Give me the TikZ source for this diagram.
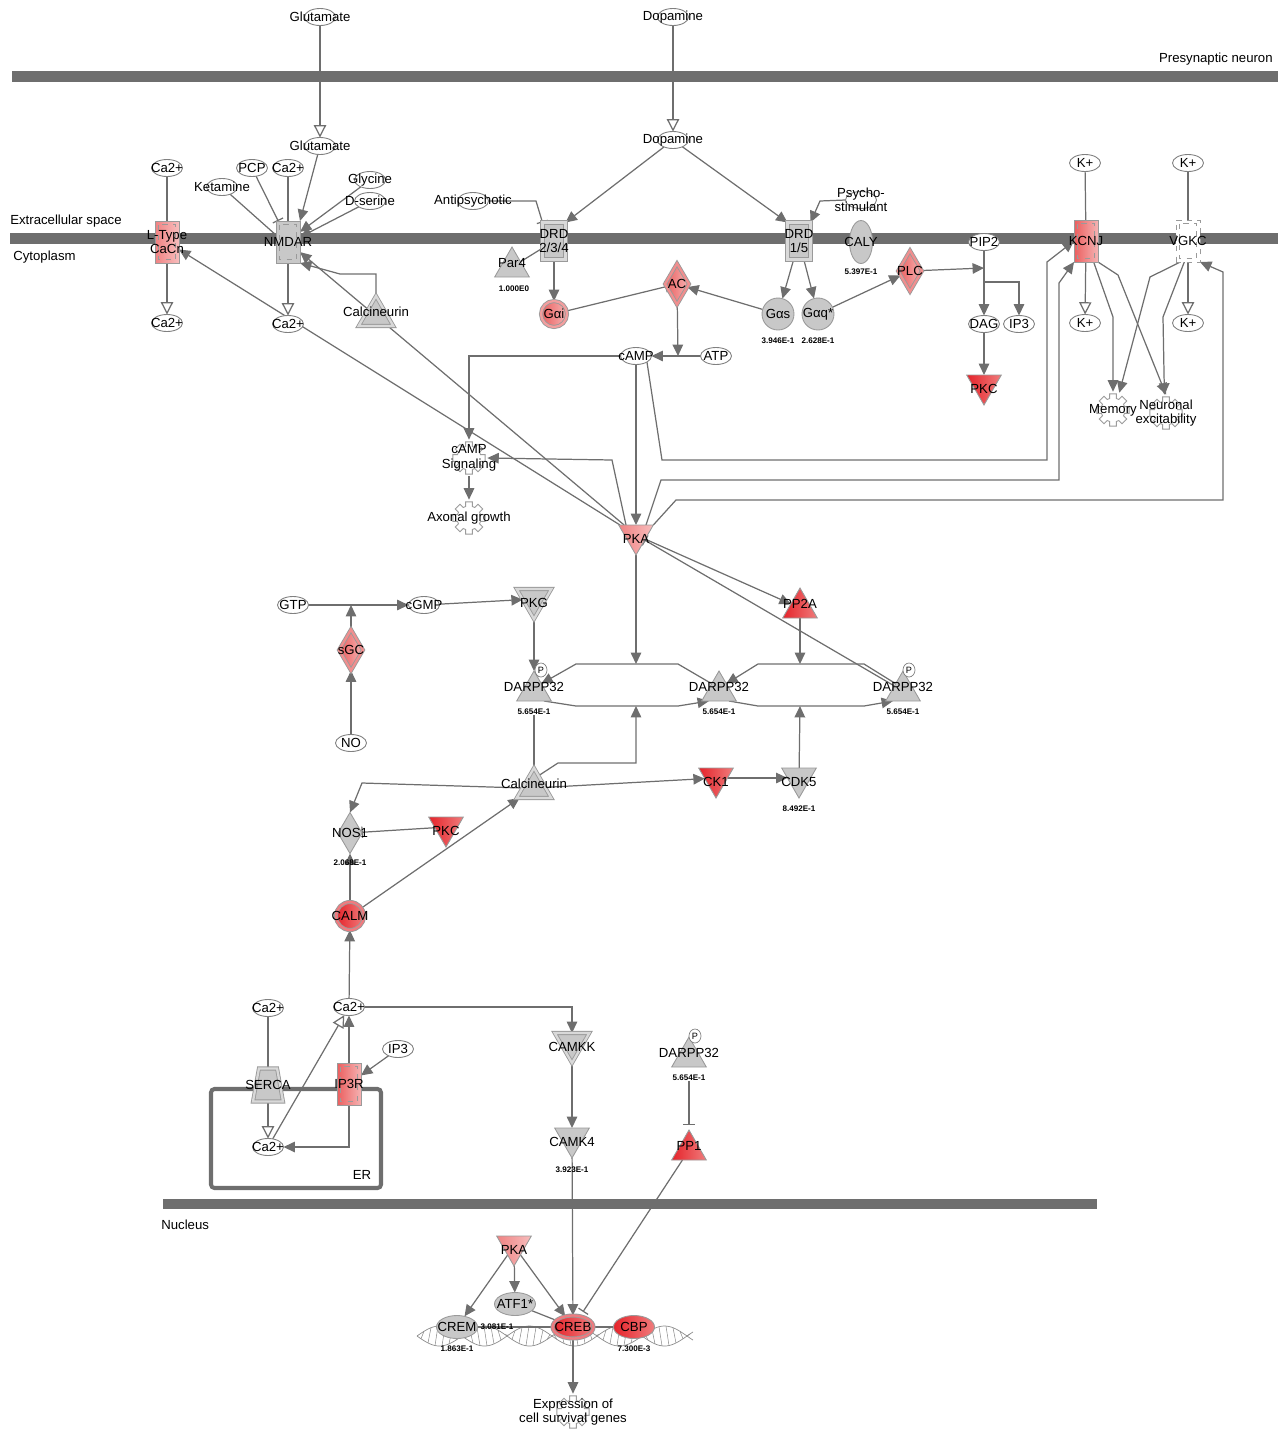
\documentclass[tikz,border=0pt]{standalone}
\usepackage{fontspec}
\setmainfont{Liberation Sans}
\usepackage{tikz}
\usetikzlibrary{shapes.geometric,arrows.meta,positioning,calc,backgrounds}

\definecolor{IPAEdge}{HTML}{6E6E6E}
\definecolor{IPAMembrane}{HTML}{6E6E6E}
\definecolor{IPAGray}{HTML}{C8C8C8}
\definecolor{IPAGrayLine}{HTML}{9A9A9A}
\definecolor{IPAChemLine}{HTML}{808080}
\definecolor{IPAFunction}{HTML}{9C9C9C}
\definecolor{IPAHelix}{HTML}{8C8C8C}
\definecolor{IPARedDeep}{HTML}{E5232A}
\definecolor{IPARedDeepB}{HTML}{F07C7C}
\definecolor{IPARedMid}{HTML}{EB5E5E}
\definecolor{IPARedMidB}{HTML}{F5B3B3}
\definecolor{IPARedLight}{HTML}{F08282}
\definecolor{IPARedLightB}{HTML}{F7BDBD}

\tikzset{
    % Text inside a molecule
    molname/.style={font=\fontsize{7.5}{8.2}\selectfont, align=center, inner sep=0pt, text=black},
    % Base molecule
    basemol/.style={draw=IPAGrayLine, line width=0.5pt, inner sep=0pt, outer sep=0pt},
    % Fills
    grayfill/.style={fill=IPAGray},
    reddeep/.style={left color=IPARedDeep, right color=IPARedDeepB},
    redmid/.style={left color=IPARedMid, right color=IPARedMidB},
    redlight/.style={left color=IPARedLight, right color=IPARedLightB},
    dbl/.style={double=#1, double distance=1.3pt},
    % Chemical
    chem/.style={basemol, draw=IPAChemLine, ellipse, fill=white,
        minimum width=0.62cm, minimum height=0.34cm, label={[molname]center:#1}},
    % Ion channel
    chan/.style={basemol, rectangle, minimum width=0.48cm, minimum height=0.84cm,
        label={[molname]center:#1},
        path picture={\draw[IPAGrayLine, dashed, line width=0.4pt]
            ([shift={(0.07cm,-0.07cm)}]path picture bounding box.north west) rectangle
            ([shift={(-0.07cm,0.07cm)}]path picture bounding box.south east);}},
    % G-protein coupled receptor
    gpcr/.style={basemol, rectangle, grayfill, dbl=IPAGray!70,
        minimum width=0.46cm, minimum height=0.74cm, label={[molname]center:#1}},
    % Kinase
    kin/.style={basemol, regular polygon, regular polygon sides=3, shape border rotate=180,
        minimum size=0.8cm, label={[molname, yshift=-0.08cm]center:#1}},
    % Phosphatase and other
    phos/.style={basemol, regular polygon, regular polygon sides=3,
        minimum size=0.8cm, label={[molname, yshift=0.08cm]center:#1}},
    % Enzyme
    enz/.style={basemol, diamond, minimum width=0.48cm, minimum height=0.82cm,
        label={[molname]center:#1}},
    % Transcription regulator
    tf/.style={basemol, ellipse, minimum width=0.82cm, minimum height=0.46cm,
        label={[molname]center:#1}},
    % G-protein
    gprot/.style={basemol, circle, minimum size=0.64cm, label={[molname]center:#1}},
    % Transporter
    transp/.style={basemol, trapezium, inner sep=1pt, trapezium stretches=true, trapezium left angle=72,
        trapezium right angle=72, minimum width=0.6cm, minimum height=0.66cm,
        label={[molname]center:#1}},
    % Biological function
    func/.style={circle, minimum size=0.72cm, inner sep=0pt, label={[molname]center:#1},
        path picture={\filldraw[fill=white, draw=IPAFunction, line width=0.5pt,
            shift={(path picture bounding box.center)}]
            (-12:0.33cm) \foreach \a in {0,45,...,315}{ -- ({\a-12}:0.33cm) -- ({\a+12}:0.33cm)
            -- ({\a+16}:0.24cm) -- ({\a+29}:0.24cm)} -- cycle;}},
    % Phosphate mark
    pmark/.style={ellipse, draw=IPAChemLine, fill=white, line width=0.4pt,
        minimum width=0.24cm, minimum height=0.28cm, inner sep=0pt, font=\fontsize{5.2}{5.2}\selectfont},
    % Expression value
    val/.style={font=\fontsize{4.6}{5}\selectfont\bfseries, inner sep=0pt},
    % Area names
    area/.style={font=\fontsize{7.5}{8.2}\selectfont, inner sep=0pt},
    % Connectors
    plainline/.style={draw=IPAEdge, line width=0.7pt},
    actarrow/.style={plainline, -{Triangle[length=6.5pt, width=6pt]}},
    inharrow/.style={plainline, -{Bar[width=6.5pt]}},
    transarrow/.style={plainline, -{Triangle[open, length=7pt, width=7pt, fill=white]}}
}

\begin{document}
\begin{tikzpicture}[x=0.02cm, y=-0.02cm]
\useasboundingbox (0,0) rectangle (1278,1431);

% compartments
\node[area, anchor=east] (presyn) at (1273,59) {Presynaptic neuron};
\node[area, anchor=west] (extra) at (10,221) {Extracellular space};
\node[area, anchor=west] (cyto) at (13,257) {Cytoplasm};
\node[area, anchor=west] (nucl) at (161,1225) {Nucleus};
\node[area] (erlab) at (362,1175) {ER};

% synaptic cleft
\node[chem=Glutamate] (glu0) at (320,17) {};
\node[chem=Dopamine] (dop0) at (673,17) {};
\node[chem=Glutamate] (glu1) at (320,146) {};
\node[chem=Dopamine] (dop1) at (673,140) {};

% membrane receptors and channels
\node[chem=Ca2+] (caA) at (167,168) {};
\node[chan={L-Type\\CaCn}, redlight] (ltype) at (167,242) {};
\node[chem=Ca2+] (caB) at (167,323) {};
\node[chem=PCP] (pcp) at (252,168) {};
\node[chem=Ketamine] (ket) at (222,187) {};
\node[chem=Ca2+] (caC) at (288,168) {};
\node[chem=Glycine] (gly) at (370,180) {};
\node[chem=D-serine] (dser) at (370,201) {};
\node[chan=NMDAR, grayfill] (nmdar) at (288,242) {};
\node[chem=Ca2+] (caD) at (288,324) {};
\node[phos=Calcineurin, grayfill, dbl=IPAGray!70] (calcnA) at (376,316) {};

\node[chem=Antipsychotic] (anti) at (473,201) {};
\node[gpcr={DRD\\2/3/4}] (drdA) at (554,241) {};
\node[phos=Par4, grayfill] (par4) at (512,267) {};
\node[val] (par4v) at (514,289) {1.000E0};
\node[gprot=Gαi, redmid, dbl=IPARedMid!60, minimum size=0.52cm] (gai) at (554,314) {};
\node[enz=AC, redmid, dbl=IPARedMid!70] (ac) at (677,284) {};
\node[gpcr={DRD\\1/5}] (drdB) at (799,241) {};
\node[chem={Psycho-\\stimulant}] (psy) at (861,200) {};
\node[basemol, ellipse, grayfill, minimum width=0.46cm, minimum height=0.86cm,
    label={[molname]center:CALY}] (caly) at (861,242) {};
\node[val] (calyv) at (861,272) {5.397E-1};
\node[gprot=Gαs, grayfill] (gas) at (778,314) {};
\node[val] (gasv) at (778,341) {3.946E-1};
\node[gprot=Gαq*, grayfill] (gaq) at (818,314) {};
\node[val] (gaqv) at (818,341) {2.628E-1};
\node[enz=PLC, redmid, dbl=IPARedMid!70] (plc) at (910,271) {};
\node[chem=PIP2] (pip2) at (984,242) {};
\node[chem=DAG] (dag) at (984,324) {};
\node[chem=IP3] (ip3A) at (1019,324) {};
\node[kin=PKC, reddeep] (pkcA) at (984,385) {};
\node[chem=K+] (kA) at (1085,163) {};
\node[chan=KCNJ, redmid] (kcnj) at (1086,241) {};
\node[chem=K+] (kB) at (1085,323) {};
\node[chem=K+] (kC) at (1188,163) {};
\node[chan=VGKC, fill=white, dashed] (vgkc) at (1188,241) {};
\node[chem=K+] (kD) at (1188,323) {};
\node[func=Memory] (memory) at (1113,410) {};
\node[func={Neuronal\\excitability}] (neuro) at (1166,413) {};

% cAMP / PKA
\node[chem=cAMP] (camp) at (636,356) {};
\node[chem=ATP] (atp) at (716,356) {};
\node[func={cAMP\\Signaling}] (campsig) at (469,458) {};
\node[func=Axonal growth] (axon) at (469,518) {};
\node[kin=PKA, redlight] (pkaA) at (636,535) {};
\node[phos=PP2A, reddeep] (pp2a) at (800,608) {};

% cGMP / DARPP32
\node[chem=GTP] (gtp) at (293,605) {};
\node[chem=cGMP] (cgmp) at (424,605) {};
\node[kin=PKG, grayfill, dbl=IPAGray!70] (pkg) at (534,599) {};
\node[enz=sGC, redmid, dbl=IPARedMid!70] (sgc) at (351,650) {};
\node[chem=NO] (no) at (351,743) {};
\node[phos=DARPP32, grayfill] (dA) at (534,691) {};
\node[pmark] (dAp) at (541,670) {P};
\node[val] (dAv) at (534,712) {5.654E-1};
\node[phos=DARPP32, grayfill] (dB) at (719,691) {};
\node[val] (dBv) at (719,712) {5.654E-1};
\node[phos=DARPP32, grayfill] (dC) at (903,691) {};
\node[pmark] (dCp) at (909,670) {P};
\node[val] (dCv) at (903,712) {5.654E-1};
\node[phos=Calcineurin, grayfill, dbl=IPAGray!70] (calcnB) at (534,788) {};
\node[kin=CK1, reddeep] (ck1) at (716,778) {};
\node[kin=CDK5, grayfill] (cdk5) at (799,778) {};
\node[val] (cdk5v) at (799,809) {8.492E-1};
\node[enz=NOS1, grayfill] (nos1) at (350,833) {};
\node[val] (nos1v) at (350,863) {2.068E-1};
\node[kin=PKC, reddeep] (pkcB) at (446,827) {};
\node[gprot=CALM, reddeep, dbl=IPARedDeep!60, minimum size=0.56cm] (calm) at (350,916) {};

% calcium stores
\node[chem=Ca2+] (caE) at (349,1007) {};
\node[chem=Ca2+] (caF) at (268,1008) {};
\node[transp=SERCA, grayfill, dbl=IPAGray!70] (serca) at (268,1085) {};
\node[chan=IP3R, redmid] (ip3r) at (349,1084) {};
\node[chem=IP3] (ip3B) at (398,1049) {};
\node[chem=Ca2+] (caG) at (268,1147) {};
\node[kin=CAMKK, grayfill, dbl=IPAGray!70] (camkk) at (572,1043) {};
\node[kin=CAMK4, grayfill] (camk4) at (572,1138) {};
\node[val] (camk4v) at (572,1170) {3.923E-1};
\node[phos=DARPP32, grayfill] (dD) at (689,1057) {};
\node[pmark] (dDp) at (695,1036) {P};
\node[val] (dDv) at (689,1078) {5.654E-1};
\node[phos=PP1, reddeep] (pp1) at (689,1150) {};

% nucleus
\node[kin=PKA, redlight] (pkaB) at (514,1246) {};
\node[tf=CREM, grayfill] (crem) at (457,1327) {};
\node[val] (cremv) at (457,1349) {1.863E-1};
\node[tf=ATF1*, grayfill] (atf1) at (515,1304) {};
\node[val] (atf1v) at (497,1327) {3.081E-1};
\node[tf=CREB, reddeep, dbl=IPARedDeep!60] (creb) at (573,1327) {};
\node[tf=CBP, reddeep] (cbp) at (634,1327) {};
\node[val] (cbpv) at (634,1349) {7.300E-3};
\node[func={Expression of\\cell survival genes}] (expr) at (573,1412) {};

% reaction points
\coordinate (campmid) at (678,356);
\coordinate (pipmid) at (984,268);
\coordinate (pipbr) at (984,282);
\coordinate (gmid) at (351,605);
\coordinate (rxA) at (636,664);
\coordinate (rxB) at (800,664);
\coordinate (rxC) at (636,706);
\coordinate (rxD) at (800,706);

\begin{scope}[on background layer]
    % membranes
    \fill[IPAMembrane] (12,71) rectangle (1278,82);
    \fill[IPAMembrane] (10,233) rectangle (1278,244);
    \fill[IPAMembrane] (163,1199) rectangle (1097,1209);
    \draw[IPAMembrane, line width=2.3pt, rounded corners=2pt] (211,1089) rectangle (381,1188);

    % DNA
    \draw[IPAHelix, line width=0.4pt] plot[domain=417:693, samples=140] (\x, {1336+10*sin(4*(\x-417))});
    \draw[IPAHelix, line width=0.4pt] plot[domain=417:693, samples=140] (\x, {1336-10*sin(4*(\x-417))});
    \foreach \hx in {421,428,...,688}
        \draw[IPAHelix, line width=0.3pt] (\hx, {1336+10*sin(4*(\hx-417))}) -- (\hx+3, {1336-10*sin(4*(\hx+3-417))});

    % membrane level
    \draw[transarrow] (glu0) -- (glu1);
    \draw[transarrow] (dop0) -- (dop1);
    \draw[plainline] (caA) -- (ltype);
    \draw[transarrow] (ltype) -- (caB);
    \draw[inharrow] (pcp) -- (nmdar.115);
    \draw[inharrow] (ket) -- (nmdar.150);
    \draw[plainline] (caC) -- (nmdar);
    \draw[actarrow] (glu1) -- (nmdar.north east);
    \draw[actarrow] (gly) -- (nmdar.40);
    \draw[actarrow] (dser) -- (nmdar.22);
    \draw[transarrow] (nmdar) -- (caD);
    \draw[actarrow] (calcnA.north) |- (340,274) -- (nmdar.south east);
    \draw[actarrow] (pkaA) -- (ltype);
    \draw[actarrow] (pkaA) -- (nmdar);

    \draw[inharrow] (anti.east) -- (536,201) -- (drdA.north west);
    \draw[plainline] (par4) -- (drdA);
    \draw[actarrow] (dop1) -- (drdA.north east);
    \draw[actarrow] (dop1) -- (drdB.north west);
    \draw[actarrow] (psy.west) -- (820,201) -- (drdB.north east);
    \draw[actarrow] (drdA) -- (gai);
    \draw[inharrow] (gai) -- (ac);
    \draw[actarrow] (drdB) -- (gas);
    \draw[actarrow] (drdB) -- (gaq);
    \draw[actarrow] (gas) -- (ac);
    \draw[actarrow] (gaq) -- (plc);
    \draw[actarrow] (plc) -- (pipmid);
    \draw[actarrow] (pip2) -- (dag);
    \draw[actarrow] (pipbr) -| (ip3A);
    \draw[actarrow] (dag) -- (pkcA);

    \draw[plainline] (kA) -- (kcnj);
    \draw[transarrow] (kcnj) -- (kB);
    \draw[plainline] (kC) -- (vgkc);
    \draw[transarrow] (vgkc) -- (kD);
    \draw[actarrow] (kcnj.-70) -- (1113,317) -- (memory.north);
    \draw[actarrow] (kcnj.south east) -- (1118,275) -- (neuro.north);
    \draw[actarrow] (vgkc.-110) -- (1150,277) -- (memory.70);
    \draw[actarrow] (vgkc.-100) -- (1163,317) -- (neuro.95);

    % cAMP / PKA
    \draw[actarrow] (atp) -- (camp);
    \draw[actarrow] (ac) -- (campmid);
    \draw[actarrow] (camp.west) -| (campsig.north);
    \draw[actarrow] (camp) -- (pkaA);
    \draw[actarrow] (camp.south east) -- (662,460) -- (1047,460) -- (1047,262) -- (kcnj.west);
    \draw[actarrow] (pkaA.north east) -- (661,480) -- (1059,480) -- (1059,283) -- (kcnj.south west);
    \draw[actarrow] (pkaA.30) -- (676,500) -- (1223,500) -- (1223,272) -- (vgkc.south east);
    \draw[actarrow] (pkaA.north west) -- (612,460) -- (campsig.east);
    \draw[actarrow] (campsig) -- (axon);
    \draw[actarrow] (pkaA) -- (pp2a);
    \draw[inharrow] (dC) -- (pkaA);
    \draw[actarrow] (pkaA) -- (rxA);
    \draw[actarrow] (pp2a) -- (rxB);

    % DARPP32 cycle
    \draw[actarrow] (dB.north west) -- (678,664) -- (576,664) -- (dA.north east);
    \draw[actarrow] (dA.south east) -- (576,706) -- (678,706) -- (dB.south west);
    \draw[actarrow] (dC.north west) -- (864,664) -- (758,664) -- (dB.north east);
    \draw[actarrow] (dB.south east) -- (758,706) -- (864,706) -- (dC.south west);

    \draw[actarrow] (gtp) -- (cgmp);
    \draw[actarrow] (sgc) -- (gmid);
    \draw[actarrow] (no) -- (sgc);
    \draw[actarrow] (cgmp) -- (pkg);
    \draw[actarrow] (pkg) -- (dA);
    \draw[plainline] (dAv) -- (calcnB);
    \draw[actarrow] (calcnB.70) -- (558,763) -| (rxC);
    \draw[actarrow] (calcnB) -- (ck1);
    \draw[actarrow] (ck1) -- (cdk5);
    \draw[actarrow] (cdk5) -- (rxD);
    \draw[actarrow] (calcnB.west) -- (362,783) -- (nos1.north);
    \draw[inharrow] (pkcB) -- (nos1);
    \draw[actarrow] (calm) -- (nos1);
    \draw[actarrow] (calm) -- (calcnB);

    % calcium release
    \draw[actarrow] (caE) -- (calm);
    \draw[actarrow] (caE.east) -| (camkk.north);
    \draw[actarrow] (camkk) -- (camk4);
    \draw[actarrow] (camk4) -- (creb);
    \draw[plainline] (caF) -- (serca);
    \draw[transarrow] (serca) -- (caG);
    \draw[actarrow] (ip3B) -- (ip3r);
    \draw[actarrow] (ip3r) -- (caE);
    \draw[transarrow] (caG) -- (caE);
    \draw[actarrow] (ip3r.south) |- (caG.east);
    \draw[inharrow, shorten >=3pt] (dDv) -- (pp1);
    \draw[inharrow, shorten >=3pt] (pp1) -- (creb);

    % nucleus
    \draw[actarrow] (pkaB) -- (crem);
    \draw[actarrow] (pkaB) -- (atf1);
    \draw[actarrow] (pkaB) -- (creb);
    \draw[plainline] (crem) -- (creb);
    \draw[plainline] (atf1) -- (creb);
    \draw[plainline] (creb) -- (cbp);
    \draw[actarrow] (creb) -- (expr);
\end{scope}
\end{tikzpicture}
\end{document}
